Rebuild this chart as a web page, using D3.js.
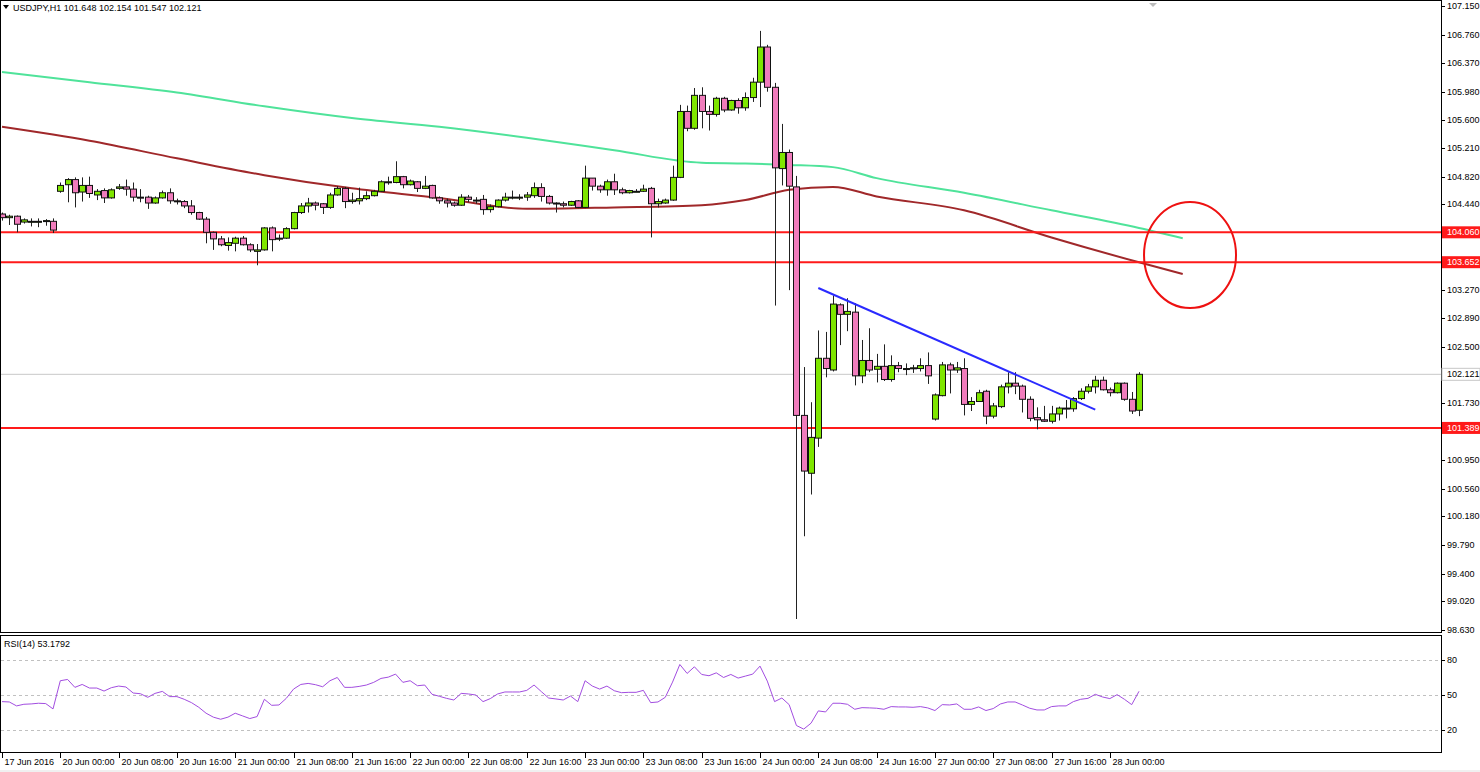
<!DOCTYPE html>
<html>
<head>
<meta charset="utf-8">
<script src="https://cdn.jsdelivr.net/npm/d3@7"></script>
<style>
  html, body { margin: 0; padding: 0; background: #f0f0f0; }
  svg { display: block; }
  text { font-family: "Liberation Sans", Arial, sans-serif; font-size: 9px; fill: #000; }
</style>
</head>
<body>
<svg id="chart" width="1480" height="772"></svg>
<script>
'use strict';

// USDJPY H1 candles, index 0 = 17 Jun 2016 16:00
const opens = [104.31,104.26,104.28,104.20,104.20,104.21,104.21,104.21,104.62,104.71,104.78,104.61,104.70,104.57,104.63,104.53,104.66,104.68,104.65,104.54,
  104.54,104.46,104.53,104.60,104.49,104.48,104.42,104.33,104.24,104.06,103.97,103.88,103.91,103.98,103.89,103.80,103.82,104.12,103.98,103.98,
  104.11,104.33,104.42,104.46,104.45,104.40,104.57,104.66,104.48,104.49,104.52,104.56,104.62,104.75,104.74,104.82,104.71,104.75,104.66,104.70,
  104.53,104.49,104.46,104.43,104.54,104.50,104.51,104.37,104.41,104.50,104.54,104.54,104.54,104.56,104.67,104.55,104.46,104.45,104.43,104.49,
  104.40,104.80,104.69,104.64,104.75,104.64,104.60,104.62,104.62,104.66,104.45,104.46,104.50,104.81,105.71,105.48,105.93,105.71,105.67,105.89,
  105.73,105.86,105.76,105.90,106.11,106.59,106.04,104.93,105.15,104.68,101.56,100.77,101.25,102.34,102.18,103.07,102.94,102.97,102.10,102.31,
  102.19,102.23,102.05,102.24,102.20,102.21,102.20,102.24,101.51,101.83,102.25,102.18,102.20,101.71,101.75,101.89,101.55,101.68,101.95,102.00,
  101.96,101.78,101.53,101.50,101.48,101.58,101.66,101.65,101.79,101.89,101.95,102.04,101.91,101.87,102.00,101.78,101.63];
const highs = [104.33,104.30,104.29,104.25,104.25,104.25,104.24,104.25,104.74,104.80,104.81,104.81,104.82,104.65,104.66,104.66,104.72,104.78,104.74,104.65,
  104.56,104.55,104.63,104.66,104.52,104.50,104.50,104.34,104.27,104.07,104.01,103.99,104.00,104.01,103.91,103.90,104.13,104.14,104.03,104.13,
  104.34,104.46,104.53,104.48,104.46,104.60,104.69,104.68,104.60,104.67,104.62,104.64,104.77,104.82,105.03,104.83,104.78,104.76,104.83,104.71,
  104.55,104.52,104.48,104.58,104.57,104.54,104.57,104.44,104.51,104.60,104.63,104.58,104.61,104.74,104.73,104.57,104.47,104.48,104.49,104.50,
  104.97,104.80,104.71,104.78,104.86,104.67,104.64,104.65,104.71,104.68,104.52,104.52,104.97,105.80,105.79,106.03,106.04,105.79,105.91,105.91,
  105.87,105.89,105.97,106.17,106.81,106.62,106.10,105.54,105.19,104.83,102.22,101.74,102.72,102.70,103.20,103.09,103.16,103.09,102.59,102.75,
  102.40,102.53,102.38,102.29,102.27,102.25,102.34,102.42,101.86,102.29,102.28,102.29,102.34,101.81,101.91,101.91,101.73,101.98,102.15,102.15,
  101.98,101.82,101.67,101.69,101.69,101.68,101.77,101.81,101.93,101.99,102.10,102.09,101.94,102.01,102.01,101.88,102.15];
const lows = [104.22,104.16,104.06,104.18,104.14,104.13,104.15,104.05,104.60,104.47,104.40,104.48,104.53,104.50,104.46,104.52,104.64,104.56,104.48,104.47,
  104.38,104.45,104.52,104.45,104.44,104.39,104.30,104.23,103.91,103.82,103.87,103.81,103.80,103.88,103.79,103.61,103.81,103.80,103.94,103.97,
  104.10,104.31,104.33,104.36,104.31,104.38,104.56,104.39,104.45,104.44,104.50,104.55,104.61,104.71,104.73,104.66,104.70,104.61,104.65,104.52,
  104.45,104.40,104.41,104.42,104.47,104.45,104.30,104.33,104.40,104.48,104.51,104.50,104.49,104.53,104.48,104.44,104.33,104.40,104.42,104.39,
  104.39,104.63,104.60,104.56,104.57,104.58,104.59,104.61,104.61,103.99,104.40,104.45,104.49,104.80,105.44,105.46,105.48,105.45,105.64,105.70,
  105.72,105.68,105.72,105.84,105.77,105.98,103.06,104.70,103.27,98.78,99.91,100.48,101.13,102.08,102.16,102.52,102.71,101.97,102.00,102.15,
  102.01,102.03,102.02,102.15,102.11,102.14,102.16,101.99,101.49,101.82,101.86,102.14,101.56,101.62,101.75,101.44,101.52,101.66,101.86,101.85,
  101.60,101.48,101.37,101.47,101.45,101.49,101.52,101.61,101.77,101.86,101.86,101.90,101.82,101.86,101.76,101.58,101.55];
const closes = [104.26,104.28,104.17,104.23,104.21,104.21,104.22,104.09,104.70,104.78,104.60,104.70,104.59,104.62,104.53,104.64,104.68,104.65,104.54,104.53,
  104.46,104.53,104.60,104.49,104.48,104.42,104.33,104.24,104.06,103.97,103.89,103.92,103.98,103.89,103.82,103.82,104.12,103.96,103.98,104.11,
  104.33,104.42,104.46,104.43,104.40,104.57,104.66,104.48,104.50,104.52,104.56,104.62,104.75,104.75,104.82,104.71,104.76,104.66,104.69,104.53,
  104.49,104.46,104.43,104.54,104.51,104.50,104.37,104.41,104.50,104.54,104.54,104.54,104.57,104.67,104.55,104.46,104.46,104.43,104.48,104.40,
  104.80,104.69,104.64,104.75,104.64,104.60,104.63,104.62,104.65,104.45,104.48,104.50,104.81,105.71,105.48,105.93,105.71,105.67,105.89,105.73,
  105.86,105.76,105.90,106.11,106.59,106.04,104.94,105.15,104.69,101.56,100.80,101.26,102.34,102.20,103.08,102.94,102.98,102.10,102.31,102.18,
  102.23,102.05,102.24,102.20,102.20,102.21,102.24,102.10,101.84,102.25,102.18,102.21,101.71,101.75,101.87,101.55,101.69,101.95,102.00,101.96,
  101.78,101.52,101.50,101.48,101.58,101.66,101.66,101.79,101.89,101.95,102.04,101.91,101.87,102.00,101.78,101.62,102.121];

// moving averages, read at sampled bar indices (they run a few bars past the last candle)
const maIdx = [0, 12, 24, 36, 48, 60, 72, 84, 96, 102, 108, 114, 120, 132, 144, 156, 162];
const maSlow = [106.25,106.11,105.97,105.78,105.62,105.50,105.35,105.18,105.01,105.00,104.98,104.95,104.80,104.60,104.36,104.12,103.98];
const maFast = [105.50,105.31,105.07,104.84,104.66,104.53,104.38,104.40,104.43,104.50,104.64,104.68,104.55,104.36,103.99,103.65,103.49];

const rsi = [44.3,44,40.6,42,42.3,42.9,42.6,38,62.3,63.4,56.6,59.1,56,56,53.4,56.3,57.7,56.9,51.7,51.1,
  48,51.4,53.1,48.6,48.6,46.3,43.4,39.4,34.3,30.9,29.1,30.9,34.3,32,29.7,31.4,46.3,41.1,41.4,47.1,
  55.1,59.1,60,58.9,57.1,62.3,65.1,56.6,56.6,57.4,58.6,60.9,64.3,65.4,68,60.9,62.3,58,58.6,50.6,
  48.9,47.1,45.7,51.4,50.9,50,44.3,46.9,50.9,52.6,52.6,52.6,54,58.6,52.9,47.4,46.6,45.7,49.1,44.3,
  62.3,57.7,55.1,57.7,53.7,52,52.3,52.3,54,43.4,44,48,61.1,76.3,68.6,74.3,67.7,66.6,69.1,65.1,
  67.7,64.6,66.3,68,74.9,62,44.3,47.4,41.7,23.7,20.6,25.7,36.3,35.4,42.9,42.9,42,37.7,39.1,38.9,
  38.6,37.7,40,39.7,39.7,39.4,40,38.9,36.6,41.7,41.4,42.3,37.7,37.7,39.7,36.6,38.3,42.3,44,44,
  41.4,38.6,37.1,37.1,40,40.6,40.6,44.3,46.3,47.1,50.6,48.3,46.9,50.3,46.3,41.7,53.18];

const priceTicks = [107.150,106.760,106.370,105.980,105.600,105.210,104.820,104.440,103.270,102.890,102.500,101.730,100.950,100.560,100.180,99.790,99.400,99.020,98.630];
const levelLines = [104.060, 103.652, 101.389];
const lastPrice = 102.121;
const rsiLevels = [80, 50, 20];
const timeLabels = ['17 Jun 2016','20 Jun 00:00','20 Jun 08:00','20 Jun 16:00','21 Jun 00:00','21 Jun 08:00','21 Jun 16:00',
  '22 Jun 00:00','22 Jun 08:00','22 Jun 16:00','23 Jun 00:00','23 Jun 08:00','23 Jun 16:00','24 Jun 00:00','24 Jun 08:00',
  '24 Jun 16:00','27 Jun 00:00','27 Jun 08:00','27 Jun 16:00','28 Jun 00:00'];
const timeLabelIdx = [0,8,16,24,32,40,48,56,64,72,80,88,96,104,112,120,128,136,144,152];
const trendLine = [{i: 112, p: 103.30}, {i: 150, p: 101.64}];
const circleCentre = {i: 163, p: 103.75};

const svg = d3.select('#chart');
const W = 1441;

const x = d3.scaleLinear().domain([0, 156]).range([2, 1139]);
const y = d3.scaleLinear().domain([98.630, 107.150]).range([630, 6]);
const yr = d3.scaleLinear().domain([0, 100]).range([753, 637]);

// backgrounds and frames
svg.append('rect').attr('x', 0).attr('y', 0).attr('width', 1480).attr('height', 770).attr('fill', '#fff');
svg.append('rect').attr('x', 0).attr('y', 770).attr('width', 1480).attr('height', 2).attr('fill', '#f0f0f0');

const main = svg.append('g');

// moving averages
const maLine = d3.line().x((d, k) => x(maIdx[k])).y(d => y(d)).curve(d3.curveMonotoneX);
main.append('path').attr('d', maLine(maSlow)).attr('fill', 'none').attr('stroke', '#4fe39a').attr('stroke-width', 2);
main.append('path').attr('d', maLine(maFast)).attr('fill', 'none').attr('stroke', '#a0282a').attr('stroke-width', 2);

// horizontal levels
main.append('line').attr('x1', 0).attr('x2', W).attr('y1', y(lastPrice)).attr('y2', y(lastPrice)).attr('stroke', '#c8c8c8');
levelLines.forEach(p => {
    main.append('line').attr('x1', 0).attr('x2', W).attr('y1', y(p)).attr('y2', y(p)).attr('stroke', '#ff1a1a').attr('stroke-width', 2);
});

// candles
const bars = d3.range(opens.length);
const candles = main.selectAll('g.candle').data(bars).enter().append('g');
candles.append('line')
    .attr('x1', i => Math.round(x(i)) + 0.5).attr('x2', i => Math.round(x(i)) + 0.5)
    .attr('y1', i => y(highs[i])).attr('y2', i => y(lows[i]))
    .attr('stroke', '#222');
candles.append('rect')
    .attr('x', i => Math.round(x(i)) - 2.5)
    .attr('y', i => y(Math.max(opens[i], closes[i])))
    .attr('width', 6)
    .attr('height', i => Math.max(1, Math.abs(y(opens[i]) - y(closes[i]))))
    .attr('fill', i => closes[i] >= opens[i] ? '#7fe600' : '#f07cbc')
    .attr('stroke', '#111');

// trend line and circle annotation
main.append('line')
    .attr('x1', x(trendLine[0].i)).attr('y1', y(trendLine[0].p))
    .attr('x2', x(trendLine[1].i)).attr('y2', y(trendLine[1].p))
    .attr('stroke', '#2a2aff').attr('stroke-width', 2);
main.append('ellipse')
    .attr('cx', x(circleCentre.i)).attr('cy', y(circleCentre.p))
    .attr('rx', 46).attr('ry', 53)
    .attr('fill', 'none').attr('stroke', '#ee1111').attr('stroke-width', 2);

// header
svg.append('path').attr('d', 'M3,5 L9,5 L6,9 Z').attr('fill', '#000');
svg.append('text').attr('x', 13).attr('y', 11).text('USDJPY,H1  101.648 102.154 101.547 102.121');
svg.append('path').attr('d', 'M1149,3 L1157,3 L1153,7 Z').attr('fill', '#bbb');

// frames
svg.append('rect').attr('x', 0.5).attr('y', 0.5).attr('width', W).attr('height', 632).attr('fill', 'none').attr('stroke', '#000');
svg.append('rect').attr('x', 0.5).attr('y', 635.5).attr('width', W).attr('height', 117).attr('fill', 'none').attr('stroke', '#000');

// price axis
const ax = svg.append('g');
priceTicks.forEach(p => {
    ax.append('line').attr('x1', W).attr('x2', W + 4).attr('y1', Math.round(y(p)) + 0.5).attr('y2', Math.round(y(p)) + 0.5).attr('stroke', '#000');
    ax.append('text').attr('x', W + 6).attr('y', y(p) + 3).text(p.toFixed(3));
});
levelLines.forEach(p => {
    ax.append('rect').attr('x', W + 1).attr('y', y(p) - 6).attr('width', 39).attr('height', 12).attr('fill', '#ff1a1a');
    ax.append('text').attr('x', W + 6).attr('y', y(p) + 3).attr('fill', '#fff').style('fill', '#fff').text(p.toFixed(3));
});
ax.append('rect').attr('x', W + 1).attr('y', y(lastPrice) - 6).attr('width', 38).attr('height', 12).attr('fill', '#fff').attr('stroke', '#c8c8c8');
ax.append('text').attr('x', W + 6).attr('y', y(lastPrice) + 3).text(lastPrice.toFixed(3));

// RSI panel
rsiLevels.forEach(l => {
    svg.append('line').attr('x1', 1).attr('x2', W).attr('y1', Math.round(yr(l)) + 0.5).attr('y2', Math.round(yr(l)) + 0.5)
        .attr('stroke', '#c0c0c0').attr('stroke-dasharray', '3,3');
    svg.append('line').attr('x1', W).attr('x2', W + 4).attr('y1', Math.round(yr(l)) + 0.5).attr('y2', Math.round(yr(l)) + 0.5).attr('stroke', '#000');
    svg.append('text').attr('x', W + 6).attr('y', yr(l) + 3).text(l);
});
svg.append('path')
    .attr('d', d3.line().x((d, i) => x(i)).y(d => yr(d))(rsi))
    .attr('fill', 'none').attr('stroke', '#a24de0').attr('stroke-width', 1);
svg.append('text').attr('x', 4).attr('y', 647).text('RSI(14) 53.1792');

// time axis
timeLabels.forEach((t, k) => {
    const tx = Math.round(x(timeLabelIdx[k])) + 0.5;
    svg.append('line').attr('x1', tx).attr('x2', tx).attr('y1', 753).attr('y2', 758).attr('stroke', '#000');
    svg.append('text').attr('x', tx + 2).attr('y', 765).text(t);
});
</script>
</body>
</html>
